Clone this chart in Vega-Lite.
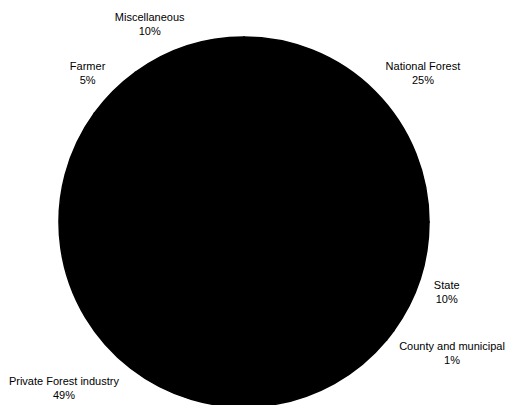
{
  "$schema": "https://vega.github.io/schema/vega-lite/v6.json",
  "width": 507,
  "height": 405,
  "autosize": {"type": "fit", "contains": "padding"},
  "padding": {"left": 0, "right": 11, "top": 31, "bottom": 0},
  "background": "white",
  "config": {"view": {"stroke": null}, "text": {"font": "Liberation Sans", "fontSize": 11, "color": "black"}},
  "data": {
    "values": [
      {"category": "National Forest", "share": 0.25},
      {"category": "State", "share": 0.10},
      {"category": "County and municipal", "share": 0.01},
      {"category": "Private Forest industry", "share": 0.49},
      {"category": "Farmer", "share": 0.05},
      {"category": "Miscellaneous", "share": 0.10}
    ]
  },
  "transform": [{"window": [{"op": "row_number", "as": "idx"}]}],
  "encoding": {
    "theta": {"field": "share", "type": "quantitative", "stack": true},
    "order": {"field": "idx", "type": "quantitative", "sort": "ascending"}
  },
  "layer": [
    {
      "mark": {"type": "arc", "outerRadius": 185, "color": "black", "stroke": "black", "strokeWidth": 1.5}
    },
    {
      "mark": {
        "type": "text",
        "radius": 200,
        "align": "center",
        "baseline": "middle",
        "dx": {"expr": "(((datum.share_start + datum.share_end) / 2) < 0.5 ? 1 : -1) * length(datum.category) * 2.5"},
        "dy": {"expr": "((((datum.share_start + datum.share_end) / 2) > 0.25 && ((datum.share_start + datum.share_end) / 2) < 0.75) ? 9 : -7) - 7"}
      },
      "encoding": {"text": {"field": "category", "type": "nominal"}}
    },
    {
      "mark": {
        "type": "text",
        "radius": 200,
        "align": "center",
        "baseline": "middle",
        "dx": {"expr": "(((datum.share_start + datum.share_end) / 2) < 0.5 ? 1 : -1) * length(datum.category) * 2.5"},
        "dy": {"expr": "((((datum.share_start + datum.share_end) / 2) > 0.25 && ((datum.share_start + datum.share_end) / 2) < 0.75) ? 9 : -7) + 7"}
      },
      "encoding": {"text": {"field": "share", "type": "quantitative", "format": ".0%"}}
    }
  ]
}
